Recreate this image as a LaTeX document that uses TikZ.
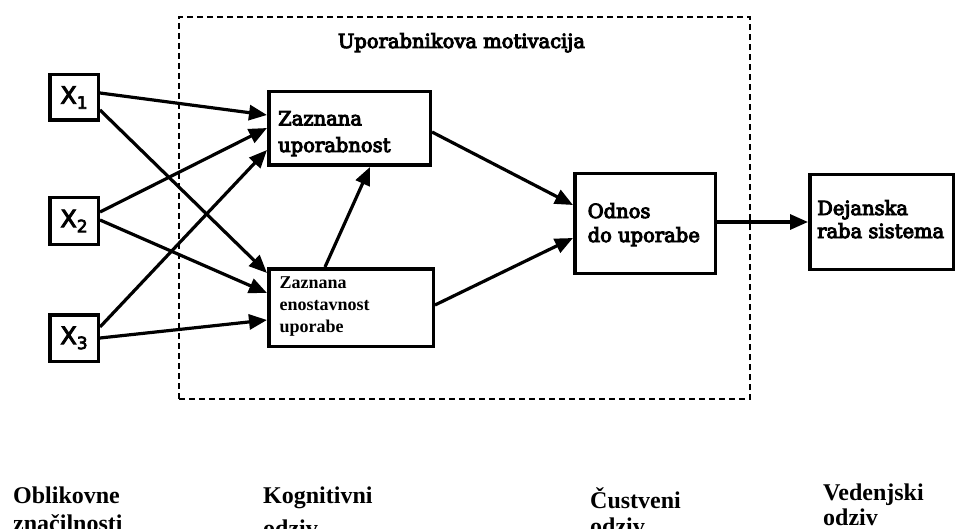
\documentclass[tikz,border=0pt]{standalone}
\usepackage{fontspec}
\setmainfont{Liberation Serif}
\newfontfamily\boxfont{DejaVu Serif}[FakeBold=5]
\newfontfamily\sansx{DejaVu Sans}[FakeBold=4]
\usetikzlibrary{arrows.meta}
\begin{document}
\begin{tikzpicture}[x=1pt,y=-1pt,
  box/.style={draw, line width=3.5pt, inner sep=0pt},
  xbox/.style={box, minimum width=48.5pt, minimum height=45.5pt, font=\sansx\fontsize{24}{24}\selectfont},
  txt/.style={anchor=base west, align=left, inner sep=0pt},
  arr/.style={line width=3.2pt, -{Triangle[length=18pt,width=15pt]}},
  frame/.style={draw, line width=2pt, dash pattern=on 6pt off 4pt, inner sep=0pt},
  lab/.style={txt, font=\bfseries\fontsize{24}{26}\selectfont}
]
\fill[white] (0,0) rectangle (957,529);
\useasboundingbox (0,0) rectangle (957,529);
\clip (0,0) rectangle (957,529);

% dashed frame and title
\node[frame, minimum width=571pt, minimum height=382pt] (frame) at (464.5,208) {};
\node[anchor=base, inner sep=0pt, font=\boxfont\fontsize{19.5}{24}\selectfont] (title) at (461.5,48) {Uporabnikova motivacija};

% input boxes
\newcommand{\xsub}[1]{X\raisebox{-5pt}{\fontsize{17}{17}\selectfont #1}}
\node[xbox] (x1) at (74,97.5) {\xsub{1}};
\node[xbox, minimum height=46.5pt] (x2) at (74,221) {\xsub{2}};
\node[xbox, minimum height=46.5pt] (x3) at (74,338) {\xsub{3}};

% main boxes
\node[box, minimum width=161.5pt, minimum height=73.5pt] (zu) at (349.5,128.5) {};
\node[box, minimum width=164.5pt, minimum height=77.5pt] (ze) at (351,307.5) {};
\node[box, minimum width=140.5pt, minimum height=99.5pt] (od) at (645,223.5) {};
\node[box, minimum width=143.5pt, minimum height=94.5pt] (dj) at (881.5,222) {};

\node[txt, font=\boxfont\fontsize{19.5}{26.7}\selectfont] (zut) at ([xshift=11pt,yshift=-23.5pt]zu.west) {Zaznana\\uporabnost};
\node[txt, font=\bfseries\fontsize{18}{22}\selectfont] (zet) at ([xshift=12.5pt,yshift=-24.5pt]ze.west) {Zaznana\\enostavnost\\uporabe};
\node[txt, font=\boxfont\fontsize{19.5}{24}\selectfont] (odt) at ([xshift=14.5pt,yshift=-18.5pt]od.west) {Odnos\\do uporabe};
\node[txt, font=\boxfont\fontsize{19.5}{23}\selectfont] (djt) at ([xshift=9pt,yshift=-16pt]dj.west) {Dejanska\\raba sistema};

% arrows
\draw[arr] ([yshift=4.5pt]x1.east) -- ([yshift=13.5pt]zu.west);
\draw[arr] ([yshift=-12.5pt]x1.east) -- ([yshift=34.5pt]ze.west);
\draw[arr] ([yshift=9pt]x2.east) -- ([yshift=0.5pt]zu.west);
\draw[arr] ([yshift=1pt]x2.east) -- ([yshift=14.5pt]ze.west);
\draw[arr] ([yshift=11pt]x3.east) -- ([yshift=-21.5pt]zu.west);
\draw[arr] (x3.east) -- ([yshift=-12.5pt]ze.west);
\draw[arr] ([yshift=-3.5pt]zu.east) -- ([yshift=18.5pt]od.west);
\draw[arr] ([yshift=2.5pt]ze.east) -- ([yshift=-14.5pt]od.west);
\draw[arr] ([xshift=-26pt]ze.north) -- ([xshift=20.5pt]zu.south);
\draw[arr] ([yshift=1.5pt]od.east) -- (dj.west);

% bottom labels (base = last line); second lines run off the lower edge as in the reference
\node[lab] (l1) at (13,531) {Oblikovne\\[2pt]značilnosti};
\node[lab] (l2) at (263,536) {Kognitivni\\[7pt]odziv};
\node[lab] (l3) at (590,534) {Čustveni\\odziv};
\node[lab, font=\bfseries\fontsize{24}{25}\selectfont] (l4) at (823,525) {Vedenjski\\odziv};
\end{tikzpicture}
\end{document}
